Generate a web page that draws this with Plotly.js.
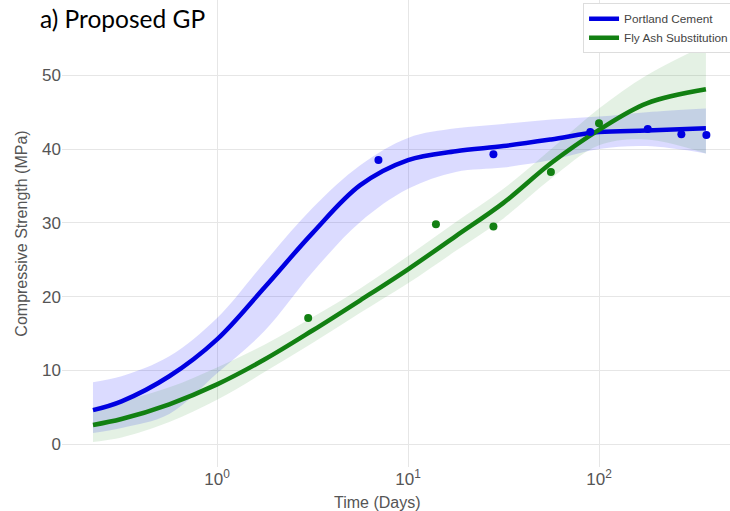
<!DOCTYPE html>
<html>
<head>
<meta charset="utf-8">
<script src="https://cdn.plot.ly/plotly-3.0.1.min.js"></script>
<style>
  html, body { margin: 0; padding: 0; background: #fff; }
  #chart { width: 730px; height: 511px; }
</style>
</head>
<body>
<div id="chart"></div>
<script>
// Gaussian-process fit of compressive strength vs curing time (days)
const curveDays = [0.224, 0.316, 0.562, 1, 1.78, 3.16, 5.62, 10, 17.8, 31.6, 56.2, 100, 178, 363];

// Portland cement: GP mean and confidence band
const pcMean  = [4.6, 5.8, 9.2, 14.2, 21.3, 28.6, 35.1, 38.5, 39.7, 40.4, 41.3, 42.3, 42.5, 42.8];
const pcUpper = [8.4, 9.2, 11.9, 17.1, 24.7, 32.0, 37.8, 41.5, 42.8, 43.4, 44.0, 44.4, 45.0, 45.5];
const pcLower = [1.5, 2.2, 4.1, 9.6, 15.4, 23.3, 30.1, 34.6, 36.9, 37.5, 38.5, 40.0, 40.4, 39.4];

// Fly ash substitution: GP mean and confidence band
const faMean  = [2.6, 3.4, 5.4, 8.1, 11.5, 15.4, 19.5, 23.7, 28.2, 32.7, 38.1, 42.6, 46.2, 48.1];
const faUpper = [5.0, 5.8, 7.7, 10.4, 13.5, 17.2, 21.1, 25.5, 30.1, 34.6, 40.0, 45.5, 50.0, 54.1];
const faLower = [0.3, 0.9, 3.0, 6.0, 9.8, 13.7, 17.8, 21.8, 26.2, 30.6, 36.0, 40.5, 41.3, 39.4];

// Measured strengths
const pcDays = [7, 28, 90, 180, 270, 365];
const pcObs  = [38.5, 39.3, 42.3, 42.7, 42.0, 41.9];
const faDays = [3, 14, 28, 56, 100];
const faObs  = [17.1, 29.8, 29.5, 36.9, 43.5];

// Axis ticks
const xTickVals = [1, 10, 100];
const xTickText = ['10<sup>0</sup>', '10<sup>1</sup>', '10<sup>2</sup>'];
const yTickVals = [0, 10, 20, 30, 40, 50];

const BLUE = 'rgb(0,0,225)';
const GREEN = 'rgb(18,128,18)';

function band(lower, upper, fill) {
  return [
    { x: curveDays, y: lower, mode: 'lines', line: { width: 0, shape: 'spline' },
      showlegend: false, hoverinfo: 'skip' },
    { x: curveDays, y: upper, mode: 'lines', line: { width: 0, shape: 'spline' },
      fill: 'tonexty', fillcolor: fill, showlegend: false, hoverinfo: 'skip' }
  ];
}

const traces = [
  ...band(pcLower, pcUpper, 'rgba(40,40,255,0.17)'),
  ...band(faLower, faUpper, 'rgba(30,140,30,0.12)'),
  { x: curveDays, y: pcMean, mode: 'lines', name: 'Portland Cement',
    line: { color: BLUE, width: 4.5, shape: 'spline' } },
  { x: curveDays, y: faMean, mode: 'lines', name: 'Fly Ash Substitution',
    line: { color: GREEN, width: 4.5, shape: 'spline' } },
  { x: pcDays, y: pcObs, mode: 'markers', showlegend: false,
    marker: { color: BLUE, size: 8 } },
  { x: faDays, y: faObs, mode: 'markers', showlegend: false,
    marker: { color: GREEN, size: 8 } }
];

const layout = {
  width: 730, height: 511,
  margin: { l: 62, r: 0, t: 0, b: 44, autoexpand: false },
  paper_bgcolor: '#fff', plot_bgcolor: '#fff',
  font: { family: 'Liberation Sans, Arial, sans-serif', color: '#555' },
  xaxis: {
    type: 'log', range: [-0.812, 2.686],
    tickvals: xTickVals, ticktext: xTickText,
    tickfont: { size: 17, color: '#555' },
    showgrid: true, gridcolor: '#e6e6e6', zeroline: false, showline: false,
    ticks: ''
  },
  yaxis: {
    range: [-3.1, 60.2],
    tickvals: yTickVals,
    tickfont: { size: 17, color: '#555' },
    showgrid: true, gridcolor: '#e6e6e6', zeroline: false, showline: false,
    ticks: '',
    title: { text: 'Compressive Strength (MPa)', font: { size: 16, color: '#555' }, standoff: 10 }
  },
  legend: {
    x: 0.78, xanchor: 'left', y: 0.993, yanchor: 'top',
    traceorder: 'normal',
    bgcolor: '#fff', bordercolor: '#ddd', borderwidth: 1,
    font: { size: 11.8, color: '#444' },
    tracegroupgap: 0
  },
  annotations: [
    { text: 'a) Proposed GP', xref: 'paper', yref: 'paper', x: -0.036, y: 1.0,
      xanchor: 'left', yanchor: 'top', yshift: -2, showarrow: false,
      font: { family: 'Lato, Open Sans, sans-serif', size: 24.5, color: '#000' } },
    { text: 'Time (Days)', xref: 'paper', yref: 'paper', x: 0.4716, y: 0,
      xanchor: 'center', yanchor: 'middle', yshift: -35, showarrow: false,
      font: { size: 16, color: '#555' } }
  ]
};

Plotly.newPlot('chart', traces, layout, { displayModeBar: false, staticPlot: true });
</script>
</body>
</html>
